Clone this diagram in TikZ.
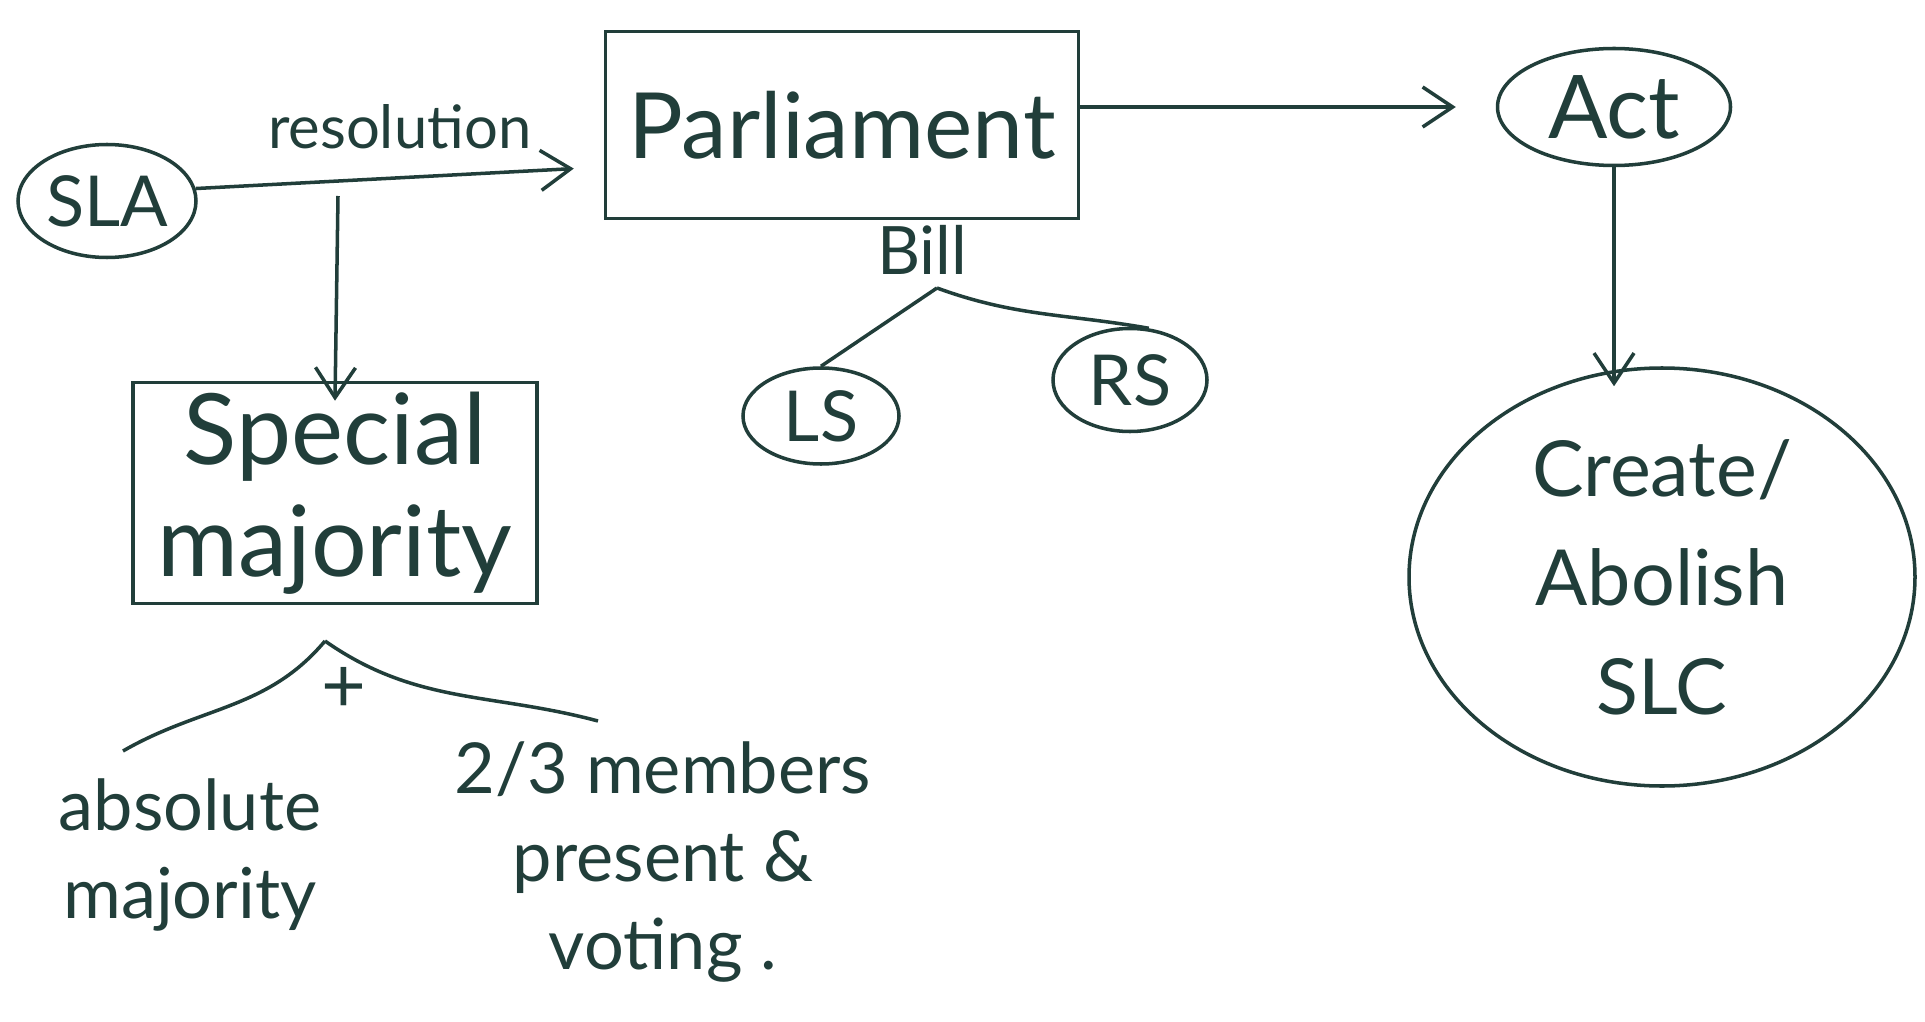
\documentclass[tikz,border=0pt]{standalone}
\usepackage{fontspec}
\setmainfont{Lato}
\usepackage{xcolor}
\definecolor{ink}{RGB}{33,62,58}
\usetikzlibrary{arrows.meta,positioning,shapes.geometric}

\begin{document}
\begin{tikzpicture}[
  ink, line width=1pt,
  oval/.style={draw,ellipse,inner sep=0pt,align=center},
  box/.style={draw,rectangle,inner sep=0pt,align=center},
  arr/.style={-{Straight Barb[length=3mm,width=4mm]}},
  lbl/.style={align=center,inner sep=1pt}
]
  \useasboundingbox (0,0) rectangle (19.25,-10.22);
  % Top row
  \node[oval,minimum width=1.78cm,minimum height=1.13cm,font=\fontsize{20}{22}\selectfont] (sla) at (1.07,-2.01) {SLA};
  \node[box,minimum width=4.73cm,minimum height=1.87cm,font=\fontsize{26}{30}\selectfont] (parl) at (8.42,-1.25) {Parliament};
  \node[oval,minimum width=2.33cm,minimum height=1.17cm,font=\fontsize{25}{28}\selectfont] (act) at (16.14,-1.07) {Act};
  \node[oval,minimum width=5.06cm,minimum height=4.18cm,font=\fontsize{22}{31}\selectfont] (slc) at (16.62,-5.77) {Create/\\Abolish\\SLC};
  % Bill and houses
  \node[lbl,font=\fontsize{19}{21}\selectfont,below=0mm of parl.south,xshift=0.8cm] (bill) {Bill};
  \coordinate (billfork) at (9.37,-2.88);
  \node[oval,minimum width=1.56cm,minimum height=0.96cm,font=\fontsize{20}{22}\selectfont] (ls) at (8.21,-4.16) {LS};
  \node[oval,minimum width=1.54cm,minimum height=1.03cm,font=\fontsize{20}{22}\selectfont] (rs) at (11.30,-3.80) {RS};
  % Special majority
  \coordinate (resmid) at (3.38,-1.96);
  \node[box,minimum width=4.04cm,minimum height=2.21cm,font=\fontsize{28}{32}\selectfont] (spm) at (3.35,-4.93) {Special\\majority};
  \coordinate (smfork) at (3.25,-6.41);
  \coordinate (absend) at (1.23,-7.51);
  \coordinate (votend) at (5.98,-7.21);
  \node[lbl,font=\fontsize{22}{30}\selectfont] (plus) at (3.44,-6.90) {+};
  \node[lbl,font=\fontsize{20}{25}\selectfont] (absmaj) at (1.90,-8.55) {absolute\\majority};
  \node[lbl,font=\fontsize{20}{25}\selectfont] (twothirds) at (6.63,-8.62) {2/3 members\\present \&\\voting .};
  % Connectors
  \draw[arr,shorten >=3mm] (sla.8) -- (parl.190) node[midway,above=1.5mm,font=\fontsize{17}{19}\selectfont]{resolution};
  \draw[arr] (resmid) -- ([yshift=-2mm]spm.north);
  \draw[arr,shorten >=4mm] (parl.east |- act) -- (act);
  \draw[arr] (act.south) -- ([yshift=-2mm]act.south |- slc.north);
  \draw (billfork) -- (ls.north);
  \draw (billfork) to[out=-20,in=170] (rs.70);
  \draw (smfork) to[out=-130,in=30] (absend);
  \draw (smfork) to[out=-35,in=165] (votend);
\end{tikzpicture}
\end{document}
